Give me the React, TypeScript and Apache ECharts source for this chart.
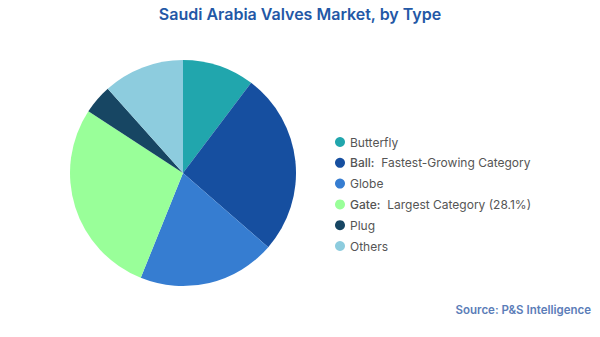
import React, { useEffect, useRef } from "react";
import * as echarts from "echarts";

const categories = ["Butterfly", "Ball", "Globe", "Gate", "Plug", "Others"];
const legendLabels = [
  "Butterfly",
  "{b|Ball:}  Fastest-Growing Category",
  "Globe",
  "{b|Gate:}  Largest Category (28.1%)",
  "Plug",
  "Others",
];
const shares = [10.3, 26.1, 19.7, 28.1, 4.2, 11.6];
const colors = ["#21A6AD", "#164FA0", "#367DD1", "#99FF99", "#174663", "#8DCCDE"];

export default function App() {
  const ref = useRef<HTMLDivElement>(null);
  useEffect(() => {
    if (!ref.current) return;
    const chart = echarts.init(ref.current, null, { renderer: "svg" });
    const font = "Inter, 'Open Sans', sans-serif";
    chart.setOption({
      animation: false,
      backgroundColor: "#ffffff",
      title: [
        {
          text: "Saudi Arabia Valves Market, by Type",
          left: "center",
          top: 6,
          padding: 0,
          textStyle: { fontFamily: font, fontSize: 16, fontWeight: 600, color: "#2358A6" },
        },
        {
          text: "Source: P&S Intelligence",
          right: 9,
          top: 304,
          padding: 0,
          textStyle: { fontFamily: font, fontSize: 11.5, fontWeight: 600, color: "#5B7DB8" },
        },
      ],
      legend: {
        orient: "vertical",
        left: 335,
        top: 135,
        padding: 0,
        icon: "circle",
        itemWidth: 10,
        itemHeight: 10,
        itemGap: 6.8,
        data: categories,
        formatter: (name: string) => legendLabels[categories.indexOf(name)],
        textStyle: {
          fontFamily: font,
          fontSize: 12,
          color: "#555555",
          lineHeight: 14,
          rich: { b: { fontFamily: font, fontSize: 12, fontWeight: 500, color: "#555555" } },
        },
      },
      series: [
        {
          type: "pie",
          center: [183, 173],
          radius: 113,
          startAngle: 90,
          clockwise: true,
          label: { show: false },
          labelLine: { show: false },
          itemStyle: { borderWidth: 0 },
          emphasis: { disabled: true },
          data: categories.map((c, i) => ({
            name: c,
            value: shares[i],
            itemStyle: { color: colors[i] },
          })),
        },
      ],
    });
    return () => chart.dispose();
  }, []);
  return (
    <div
      ref={ref}
      style={{ position: "fixed", left: 0, top: 0, width: 600, height: 337 }}
    />
  );
}
